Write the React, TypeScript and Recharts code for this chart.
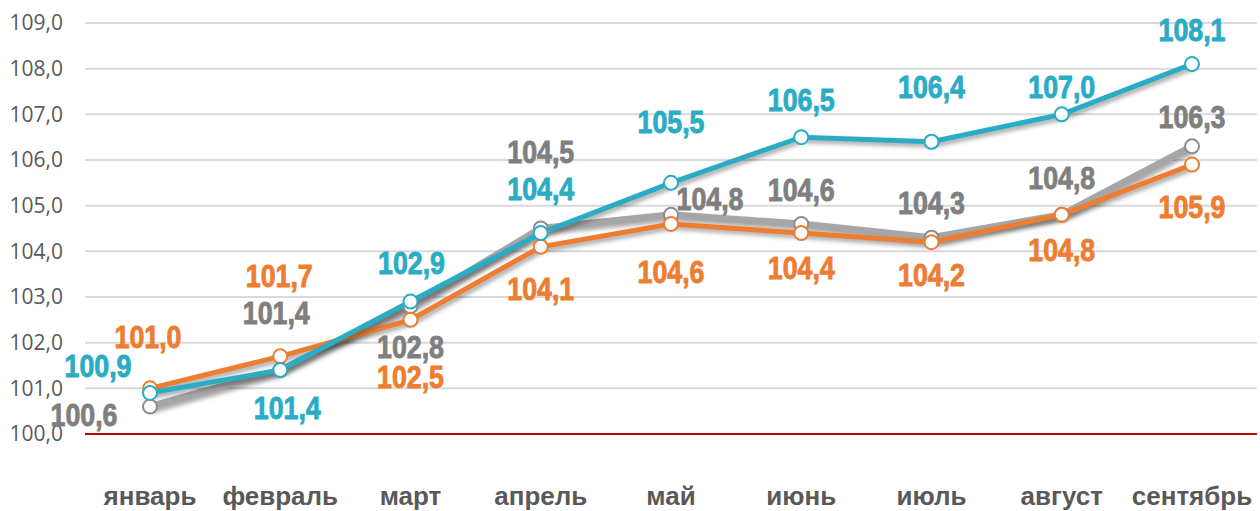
import React from "react";
import { LineChart, Line, XAxis, YAxis, CartesianGrid, ReferenceLine } from "recharts";

const months = ["январь", "февраль", "март", "апрель", "май", "июнь", "июль", "август", "сентябрь"];
const grayValues = [100.6, 101.4, 102.8, 104.5, 104.8, 104.6, 104.3, 104.8, 106.3];
const orangeValues = [101.0, 101.7, 102.5, 104.1, 104.6, 104.4, 104.2, 104.8, 105.9];
const tealValues = [100.9, 101.4, 102.9, 104.4, 105.5, 106.5, 106.4, 107.0, 108.1];
const yTicks = [100, 101, 102, 103, 104, 105, 106, 107, 108, 109];

// label offsets (label centre relative to point)
const grayLabelDx = [-66, -4, 0, 0, 39, 0, 0, 0, 0];
const grayLabelDy = [8, -58, 40, -77, -16, -34, -35, -37, -30];
const orangeLabelDx = [-2, -1, 0, 0, 0, 0, 0, 0, 0];
const orangeLabelDy = [-52, -81, 57, 42, 48, 34, 32, 35, 42];
const tealLabelDx = [-52, 7, 1, 0, 0, 0, 0, 0, 0];
const tealLabelDy = [-27, 37, -39, -45, -61, -38, -55, -28, -35];

const data = months.map((m, i) => ({
  month: m,
  gray: grayValues[i],
  orange: orangeValues[i],
  teal: tealValues[i],
}));

const fmt = (v: number) => v.toFixed(1).replace(".", ",");

const makeLabel = (color: string, dxs: number[], dys: number[]) => (props: any) => {
  const { x, y, index, value } = props;
  if (x == null || y == null) return null;
  return (
    <text
      x={x + dxs[index]}
      y={y + dys[index] + 11.5}
      textAnchor="middle"
      fill={color}
      stroke={color}
      strokeWidth={0.9}
      fontFamily="'Liberation Sans', Arial, sans-serif"
      fontWeight="bold"
      fontSize={32}
      textLength={67}
      lengthAdjust="spacingAndGlyphs"
    >
      {fmt(value)}
    </text>
  );
};

const dot = (stroke: string) => ({ r: 7, fill: "#ffffff", stroke, strokeWidth: 2 });

export default function App() {
  return (
    <div style={{ position: "absolute", left: 0, top: 0, background: "#fff" }}>
      <style>{`.recharts-line-curve { filter: drop-shadow(2px 3px 2px rgba(0,0,0,0.35)); }`}</style>
      <LineChart
        width={1260}
        height={511}
        data={data}
        margin={{ top: 23, right: 3, bottom: 0, left: 0 }}
      >
        <CartesianGrid vertical={false} stroke="#d9d9d9" strokeWidth={2} />
        <XAxis
          dataKey="month"
          axisLine={false}
          tickLine={false}
          tickSize={0}
          tickMargin={53}
          height={77}
          interval={0}
          padding={{ left: 65, right: 65 }}
          tick={{ fill: "#595959", fontSize: 26, fontWeight: "bold", fontFamily: "'Liberation Sans', Arial, sans-serif" }}
        />
        <YAxis
          domain={[100, 109]}
          ticks={yTicks}
          axisLine={false}
          tickLine={false}
          tickSize={0}
          tickMargin={22}
          width={85}
          tickFormatter={fmt}
          tick={{ fill: "#595959", fontSize: 21, fontFamily: "'Open Sans', sans-serif" }}
        />
        <ReferenceLine y={100} stroke="#c00000" strokeWidth={2} />
        <Line
          dataKey="gray"
          stroke="#a6a6a6"
          strokeWidth={7}
          dot={dot("#8c8c8c")}
          activeDot={false}
          isAnimationActive={false}
          label={makeLabel("#7f7f7f", grayLabelDx, grayLabelDy)}
        />
        <Line
          dataKey="orange"
          stroke="#ed7d31"
          strokeWidth={5}
          dot={dot("#ed7d31")}
          activeDot={false}
          isAnimationActive={false}
          label={makeLabel("#ed7d31", orangeLabelDx, orangeLabelDy)}
        />
        <Line
          dataKey="teal"
          stroke="#2aacc4"
          strokeWidth={5}
          dot={dot("#2aacc4")}
          activeDot={false}
          isAnimationActive={false}
          label={makeLabel("#2aacc4", tealLabelDx, tealLabelDy)}
        />
      </LineChart>
    </div>
  );
}
